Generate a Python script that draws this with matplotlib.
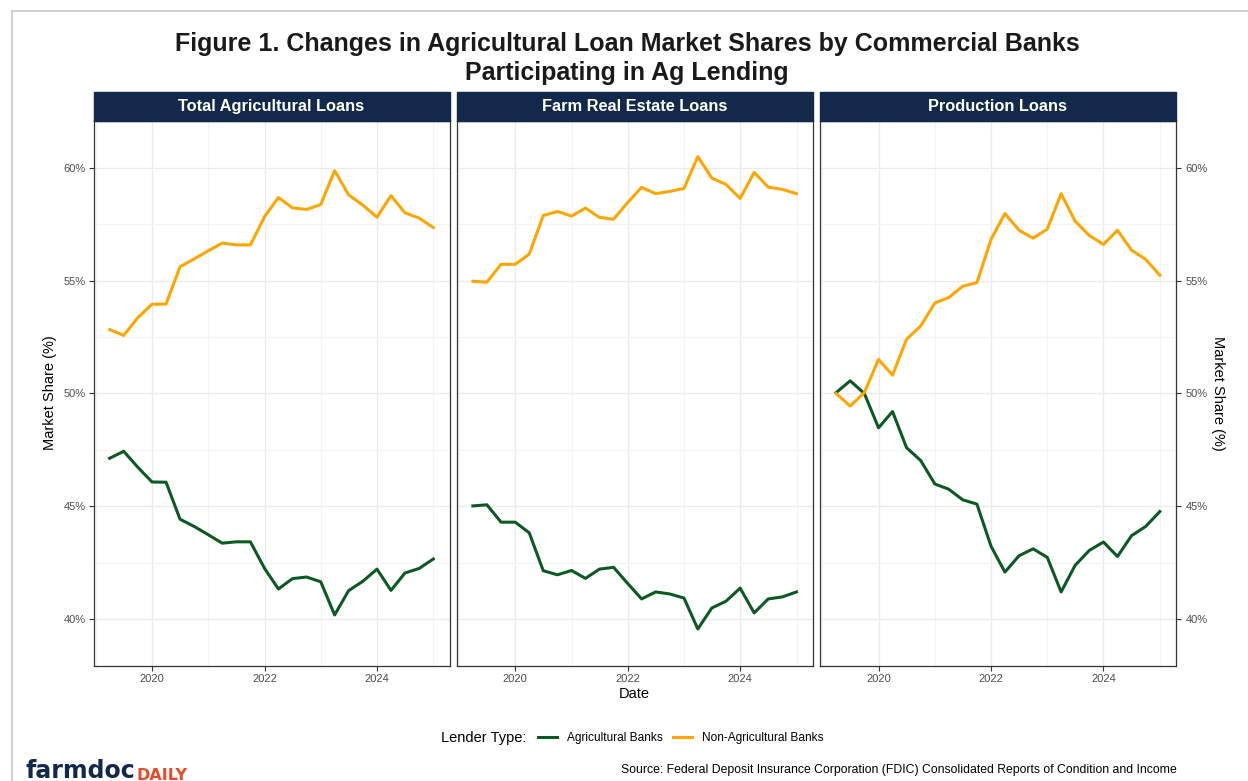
import matplotlib
matplotlib.use('Agg')
import matplotlib.pyplot as plt
import matplotlib.dates as mdates
from matplotlib.patches import Rectangle
from matplotlib.lines import Line2D
from matplotlib.ticker import FixedLocator, FuncFormatter
import pandas as pd

plt.rcParams['font.family'] = ['Liberation Sans', 'DejaVu Sans']

# ---------------- data ----------------
quarters = pd.date_range('2019-04-01', '2025-01-01', freq='QS')
panel_titles = ['Total Agricultural Loans', 'Farm Real Estate Loans', 'Production Loans']
lender_types = ['Agricultural Banks', 'Non-Agricultural Banks']

total_ag = [47.13, 47.44, 46.73, 46.08, 46.07, 44.43, 44.11, 43.74, 43.37, 43.43, 43.43, 42.25,
            41.34, 41.80, 41.87, 41.66, 40.19, 41.27, 41.68, 42.22, 41.28, 42.05, 42.25, 42.67]
total_nonag = [52.83, 52.57, 53.36, 53.95, 53.96, 55.61, 55.96, 56.32, 56.66, 56.58, 56.58, 57.83,
               58.68, 58.22, 58.15, 58.37, 59.87, 58.80, 58.34, 57.81, 58.76, 58.00, 57.77, 57.35]
realestate_ag = [45.02, 45.07, 44.30, 44.30, 43.83, 42.15, 41.97, 42.16, 41.81, 42.22, 42.30, 41.58,
                 40.90, 41.21, 41.12, 40.94, 39.57, 40.50, 40.80, 41.38, 40.28, 40.90, 40.99, 41.21]
realestate_nonag = [54.97, 54.93, 55.72, 55.72, 56.17, 57.88, 58.06, 57.86, 58.21, 57.80, 57.72, 58.46,
                    59.13, 58.85, 58.95, 59.08, 60.49, 59.54, 59.26, 58.64, 59.79, 59.14, 59.04, 58.85]
production_ag = [50.04, 50.56, 50.00, 48.48, 49.20, 47.60, 47.03, 45.99, 45.76, 45.29, 45.10, 43.23,
                 42.09, 42.81, 43.12, 42.74, 41.21, 42.39, 43.05, 43.42, 42.78, 43.70, 44.11, 44.77]
production_nonag = [50.00, 49.44, 50.04, 51.51, 50.81, 52.40, 52.99, 54.01, 54.25, 54.75, 54.91, 56.83,
                    57.97, 57.23, 56.88, 57.28, 58.85, 57.63, 57.00, 56.60, 57.23, 56.35, 55.94, 55.24]

y_major = [40, 45, 50, 55, 60]
y_minor = [42.5, 47.5, 52.5, 57.5]
x_major_years = [2020, 2022, 2024]
x_minor_years = [2019, 2021, 2023, 2025]

# ---------------- style ----------------
W, H = 1248, 781
GREEN = '#0B5A22'
ORANGE = '#FFA500'
NAVY = '#13294B'
GRID = '#EBEBEB'

fig = plt.figure(figsize=(W / 100, H / 100), dpi=100)
fig.patch.set_facecolor('white')

def fx(px):
    return px / W

def fy(py):
    return 1 - py / H

panel_left = [93.5, 456.7, 820.0]
panel_w = 356.0
panel_top, panel_bottom = 120.5, 666.0
strip_top = 92.3

series = [(total_ag, total_nonag), (realestate_ag, realestate_nonag), (production_ag, production_nonag)]

d0 = mdates.date2num(quarters[0])
d1 = mdates.date2num(quarters[-1])
pad = 0.05 * (d1 - d0)

axes = []
for i, (title, (ag, nonag)) in enumerate(zip(panel_titles, series)):
    ax = fig.add_axes([fx(panel_left[i]), fy(panel_bottom), panel_w / W, (panel_bottom - panel_top) / H])
    axes.append(ax)
    ax.plot(quarters, ag, color=GREEN, lw=2.2, solid_joinstyle='round', zorder=3)
    ax.plot(quarters, nonag, color=ORANGE, lw=2.2, solid_joinstyle='round', zorder=3)
    ax.set_xlim(d0 - pad, d1 + pad)
    ax.set_ylim(37.93, 62.09)

    ax.xaxis.set_major_locator(FixedLocator([mdates.date2num(pd.Timestamp(f'{y}-01-01')) for y in x_major_years]))
    ax.xaxis.set_minor_locator(FixedLocator([mdates.date2num(pd.Timestamp(f'{y}-01-01')) for y in x_minor_years]))
    ax.xaxis.set_major_formatter(FuncFormatter(lambda v, p: f'{mdates.num2date(v).year}'))
    ax.yaxis.set_major_locator(FixedLocator(y_major))
    ax.yaxis.set_minor_locator(FixedLocator(y_minor))
    ax.yaxis.set_major_formatter(FuncFormatter(lambda v, p: f'{v:.0f}%'))

    ax.grid(which='major', color=GRID, lw=1.0, zorder=0)
    ax.grid(which='minor', color='#F3F3F3', lw=0.8, zorder=0)
    ax.set_axisbelow(True)

    for s in ax.spines.values():
        s.set_color('#333333')
        s.set_linewidth(0.9)

    ax.tick_params(axis='x', which='major', length=3.5, width=0.8, color='#333333',
                   labelsize=8, labelcolor='#4D4D4D', pad=2)
    ax.tick_params(which='minor', length=0)
    if i == 0:
        ax.tick_params(axis='y', which='major', length=3.5, width=0.8, color='#333333',
                       labelsize=8, labelcolor='#4D4D4D', pad=2, left=True, right=False)
    elif i == 2:
        ax.tick_params(axis='y', which='major', length=3.5, width=0.8, color='#333333',
                       labelsize=8, labelcolor='#4D4D4D', pad=3.5, left=False, labelleft=False,
                       right=True, labelright=True)
    else:
        ax.tick_params(axis='y', which='major', left=False, labelleft=False)

    # strip
    sh = (panel_top - strip_top) / (panel_bottom - panel_top)
    ax.add_patch(Rectangle((0, 1), 1, sh, transform=ax.transAxes, facecolor=NAVY,
                           edgecolor=NAVY, clip_on=False, zorder=5))
    ax.text(0.5, 1 + sh / 2, title, transform=ax.transAxes, ha='center', va='center',
            color='white', fontsize=11.8, fontweight='bold', zorder=6)

# title
fig.text(fx(627), fy(58.5),
         'Figure 1. Changes in Agricultural Loan Market Shares by Commercial Banks\nParticipating in Ag Lending',
         ha='center', va='center', fontsize=18, fontweight='bold', color='#1A1A1A',
         linespacing=1.25, multialignment='center')

# axis labels
fig.text(fx(50), fy(393), 'Market Share (%)', rotation=90, ha='center', va='center', fontsize=10.5)
fig.text(fx(1218), fy(393), 'Market Share (%)', rotation=270, ha='center', va='center', fontsize=10.5)
fig.text(fx(634.7), fy(694), 'Date', ha='center', va='center', fontsize=10.5)

# legend
handles = [Line2D([], [], color=GREEN, lw=2.2), Line2D([], [], color=ORANGE, lw=2.2)]
fig.legend(handles=handles, labels=lender_types, loc='center left',
           bbox_to_anchor=(fx(538), fy(738)), ncol=2, frameon=False, fontsize=8.6,
           handlelength=1.6, handletextpad=0.8, columnspacing=0.9, borderpad=0, borderaxespad=0)
fig.text(fx(441), fy(738), 'Lender Type:', ha='left', va='center', fontsize=10.5)

# source
fig.text(fx(1177), fy(770), 'Source: Federal Deposit Insurance Corporation (FDIC) Consolidated Reports of Condition and Income',
         ha='right', va='center', fontsize=8.8)

# logo
t = fig.text(fx(25), fy(778), 'farmdoc', ha='left', va='baseline', fontsize=17,
             fontweight='bold', color=NAVY, family='DejaVu Sans')
axes[0].annotate('DAILY', xy=(1, 0), xycoords=t, xytext=(1, 0), textcoords='offset points',
                 ha='left', va='bottom', fontsize=11.5, fontweight='bold',
                 color='#E84A27', family='DejaVu Sans', annotation_clip=False)

# outer frame
fig.add_artist(Line2D([fx(12), fx(12)], [fy(11), 0], color='#C8C8C8', lw=1.2))
fig.add_artist(Line2D([fx(12), 1], [fy(11), fy(11)], color='#C8C8C8', lw=1.2))

fig.savefig('out.png', dpi=100, facecolor='white')
